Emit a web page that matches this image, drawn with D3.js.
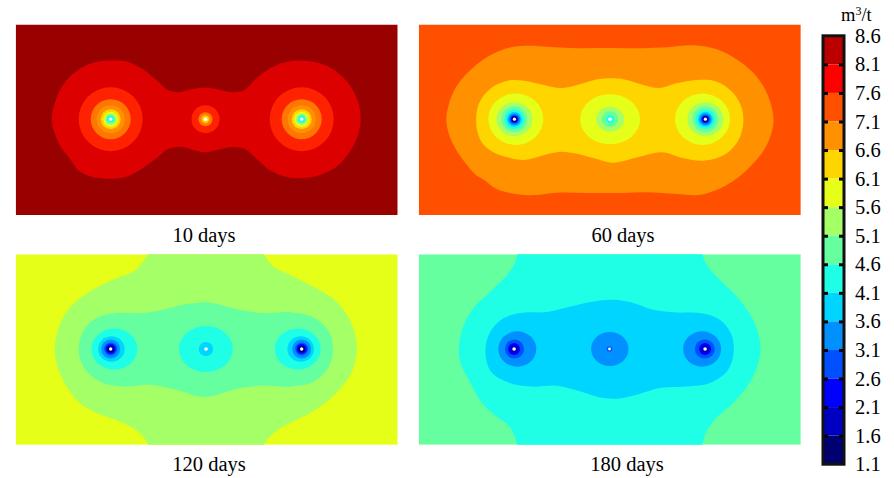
<!DOCTYPE html>
<html>
<head>
<meta charset="utf-8">
<script src="https://cdn.jsdelivr.net/npm/d3@7"></script>
<style>
body { margin: 0; background: #fff; }
text { font-family: "Liberation Serif", serif; fill: #000; }
</style>
</head>
<body>
<script>
// colour bar
const colorbarTicks = [8.6, 8.1, 7.6, 7.1, 6.6, 6.1, 5.6, 5.1, 4.6, 4.1, 3.6, 3.1, 2.6, 2.1, 1.6, 1.1]
const colorbarBands = [8.35, 7.85, 7.35, 6.85, 6.35, 5.85, 5.35, 4.85, 4.35, 3.85, 3.35, 2.85, 2.35, 1.85, 1.35]

// gas content of each zone, m3/t, and the colour it is drawn with
const zoneValues = [8.45, 8.35, 8, 7.85, 7.7, 7.35, 7.2, 6.85, 6.35, 5.85, 5.35, 4.85, 4.35, 3.85, 3.35, 2.85, 2.35, 1.85, 1.35, 0]
const zoneColors = ["#990000", "#bb0000", "#dd0000", "#ff0000", "#ff2200", "#ff5000", "#ff7700", "#ff9000", "#ffd500", "#e5ff18", "#a5ff66", "#66ffa0", "#1effe5", "#00d5ff", "#0090ff", "#0050ff", "#0000ff", "#0000c0", "#000070", "#ffffff"]

const panelTitles = ["10 days", "60 days", "120 days", "180 days"]
const backgrounds = [8.45, 7.35, 5.85, 4.85]

// contour outlines, [x, y] along the seam
const day10Outer = [[36,95.5],[39,79],[47.3,60.5],[62.3,45.5],[77.3,38.2],[94,36],[110.7,37],[127.3,44.8],[140.7,55.5],[154,66.2],[160.7,67.8],[177.3,64.5],[194,63.5],[200.7,64.5],[219,67.8],[227.3,66.2],[240.7,53.8],[257.3,42.2],[274,36.8],[287.3,36.2],[304,38.8],[320.7,47.2],[334,60.5],[342.3,77.2],[345,94.5],[342.3,110.5],[334,127.2],[320.7,142.2],[304,150.5],[284,153.8],[267.3,151.5],[252.3,144.5],[242.3,135.5],[227.3,123.8],[219,122.5],[200.7,125.5],[189,127.8],[180.7,126.2],[164,122.2],[154,123.8],[140.7,133.8],[124,145.5],[110.7,152.2],[94,154.2],[72,151],[62.3,145.5],[55,135.5],[44,120.5],[39,108.8]]

const day60Outer = [[27.6,95.5],[30.3,78.8],[38.6,60.5],[55.3,42.2],[75.3,28.8],[95.3,22.2],[108.6,21.2],[128.6,22.2],[152,23.5],[195.3,23.5],[224.6,23.8],[248,22.8],[274.6,20.8],[298,24.8],[321.3,37.2],[338,52.2],[349.6,72.2],[354.6,98.8],[348,120.5],[331.3,142.2],[308,160.5],[279.6,170.5],[258,169.5],[228,167.8],[204.6,168.5],[168.6,168.5],[138.6,168.2],[108.6,170.8],[92,168.8],[75,163],[66,156],[57,150.5],[48.6,141],[38.6,127.2],[30.3,110.5]]
const day60Inner = [[57.3,94.5],[60.3,78.8],[72,63.8],[88.6,56.2],[105.3,56.2],[125.3,60.5],[142,63.5],[158.6,60.5],[178.6,54.8],[195.3,53.8],[208,55.5],[224.6,60.5],[239.6,63.5],[258,58.8],[278,55.5],[298,57.2],[314.6,68.8],[323,83.8],[324.6,95.5],[321.3,112.2],[308,128.8],[284.6,136.2],[264.6,133.8],[243,127.8],[224.6,131.2],[201.3,137.2],[195.3,138.2],[175.3,133.8],[155.3,128.8],[142,127.2],[125.3,130.5],[105.3,135.5],[88.6,132.8],[73.6,127.2],[63.6,118.8],[58.6,107.2]]

const day120Outer = [[132.3,0],[135,-8],[245,-8],[248.3,0],[255.7,10.5],[274,20.5],[297.3,32.2],[320.7,47.2],[334,65.5],[341.3,93.8],[335.7,118.8],[320.7,138.8],[297.3,157.2],[274,168.8],[262.3,175.5],[248.3,190],[245,198],[135,198],[132.3,190],[122.3,177.2],[104,167.2],[80.7,158.8],[62.3,147.2],[49,128.8],[40.7,108.8],[39,95.5],[42.3,75.5],[52.3,55.5],[74,37.2],[97.3,25.5],[122.3,13.8],[127.3,7.2]]
const day120Inner = [[63,94.5],[67.3,77.2],[80.7,63.8],[100.7,58.8],[127.3,58.8],[147.3,55.5],[170.7,49.8],[194,48.2],[204,50.5],[224,55.5],[247.3,58.8],[277.3,58.2],[299,63.8],[314,78.8],[317.3,94.5],[312.3,113.8],[297.3,127.8],[275.7,132.2],[242.3,131.5],[217.3,135.5],[194,142.2],[184,142.2],[160.7,135.5],[134,130.5],[107.3,132.2],[87.3,128.8],[72.3,118.8],[64.7,105.5]]

const day180Outer = [[98.3,0],[100,-8],[282,-8],[283.7,0],[287.7,10.5],[301,25.5],[319.3,43.8],[334.3,65.5],[341.7,95.5],[334.3,122.2],[314.3,148.8],[294.3,167.2],[287.7,177.2],[283.7,190],[282,198],[100,198],[98.3,190],[91.7,173.8],[73.3,158.8],[63.3,148.8],[50,125.5],[41.7,108.8],[40,95.5],[43.3,75.5],[53.3,55.5],[71.7,37.2],[88.3,20.5],[96.7,7.2]]
const day180Inner = [[66.7,94.5],[71.7,77.2],[85,63.8],[101.7,58.8],[128.3,57.8],[151.7,52.2],[175,47.2],[195,45.5],[211,47.8],[234.3,55.5],[257.7,58.2],[281,58.8],[301,65.5],[312.7,80.5],[315,95.5],[309.3,115.5],[291,128.8],[267.7,132.2],[241,133.8],[217.7,140.5],[197.7,144.5],[185,143.8],[161.7,137.2],[138.3,131.5],[111.7,132.2],[88.3,127.8],[73.3,118.8]]

// [value, outline] per panel
const contours = [
    [[8, day10Outer]],
    [[6.85, day60Outer], [6.35, day60Inner]],
    [[5.35, day120Outer], [4.85, day120Inner]],
    [[4.35, day180Outer], [3.85, day180Inner]]
]

// rings round the three boreholes: [cx, rx, ry, value]
const day10Rings = [
    [95,32,32,7.7],[95,20,20,7.2],[95,14,14,6.85],[95,10,10,6.35],[95,7.5,7.5,5.85],[95,5.8,5.8,5.35],[95,4.6,4.6,4.85],[95,3.3,3.3,4.35],[95,1.6,1.6,0],
    [189.8,14,14,7.7],[189.8,7,7,7.2],[189.8,5,5,6.85],[189.8,3.4,3.4,6.35],[189.8,1.8,1.8,0],
    [286,32,32,7.7],[286,20,20,7.2],[286,14,14,6.85],[286,10,10,6.35],[286,7.5,7.5,5.85],[286,5.8,5.8,5.35],[286,4.6,4.6,4.85],[286,3.3,3.3,4.35],[286,1.6,1.6,0]
]
const day60Rings = [
    [97,27.5,25.7,5.85],[95.6,18,17,5.35],[95.6,13,13,4.85],[95.6,10,10,4.35],[95.6,7.5,7.5,3.85],[95.6,6,6,3.35],[95.6,4.5,4.5,2.85],[95.6,3.5,3.5,2.35],[95.6,2.6,2.6,1.35],[95.6,1.6,1.6,0],
    [191.3,30,25,5.85],[191.3,14,12.5,5.35],[191.3,8,8,4.85],[191.3,4,4,4.35],[191.3,1.8,1.8,0],
    [283.7,27.5,25.7,5.85],[286.6,18,17,5.35],[286.6,13,13,4.85],[286.6,10,10,4.35],[286.6,7.5,7.5,3.85],[286.6,6,6,3.35],[286.6,4.5,4.5,2.85],[286.6,3.5,3.5,2.35],[286.6,2.6,2.6,1.35],[286.6,1.6,1.6,0]
]
const day120Rings = [
    [98.7,23,20.5,4.35],[95.7,13.3,12.8,3.85],[95,9.5,9.5,3.35],[95,6.5,6.5,2.85],[95,5,5,2.35],[95,3.2,3.2,1.35],[95,1.7,1.7,0],
    [190.2,27,23,4.35],[190.3,7.2,7,3.85],[190.3,1.8,1.8,0],
    [282,23,20.5,4.35],[285,13.3,12.8,3.85],[286,9.5,9.5,3.35],[286,6.5,6.5,2.85],[286,5,5,2.35],[286,3.2,3.2,1.35],[286,1.7,1.7,0]
]
const day180Rings = [
    [98.5,19,17.7,3.35],[95.7,9.5,9.5,2.85],[95.3,6,6,2.35],[95.3,3.8,3.8,1.85],[95.3,1.8,1.8,0],
    [191,18.7,17,3.35],[190.7,2.8,2.8,2.85],[190.7,1.4,1.4,0],
    [283.3,19,17.7,3.35],[286,10,9.5,2.85],[286.3,6,6,2.35],[286.3,3.8,3.8,1.85],[286.3,1.8,1.8,0]
]
const rings = [day10Rings, day60Rings, day120Rings, day180Rings]

const w = 894
const h = 478
const pw = 382
const ph = 190.5
const color = d3.scaleOrdinal(zoneValues, zoneColors)

const svg = d3.select("body").append("svg")
    .attr("width", w)
    .attr("height", h)
    .style("display", "block")

const panelX = [15.7, 418.8]
const panelY = [24.5, 254.3]
const captionX = [204, 623, 209, 627]
const captionY = [242, 471]

panelTitles.forEach((title, i) => {
    const left = panelX[i % 2]
    const top = panelY[Math.floor(i / 2)]
    const x = d3.scaleLinear().domain([0, pw]).range([left, left + pw])
    const y = d3.scaleLinear().domain([0, ph]).range([top, top + ph])

    svg.append("clipPath").attr("id", "clip" + i)
        .append("rect")
        .attr("x", left).attr("y", top)
        .attr("width", pw).attr("height", ph)

    const g = svg.append("g").attr("clip-path", `url(#clip${i})`)
    g.append("rect")
        .attr("x", x(0)).attr("y", y(0))
        .attr("width", x(pw) - x(0)).attr("height", y(ph) - y(0))
        .attr("fill", color(backgrounds[i]))

    const line = d3.line()
        .x(d => x(d[0]))
        .y(d => y(d[1]))
        .curve(d3.curveCatmullRomClosed.alpha(1))

    g.selectAll("path")
        .data(contours[i])
        .enter()
        .append("path")
        .attr("d", d => line(d[1]))
        .attr("fill", d => color(d[0]))

    g.selectAll("ellipse")
        .data(rings[i])
        .enter()
        .append("ellipse")
        .attr("cx", d => x(d[0]))
        .attr("cy", y(94.7))
        .attr("rx", d => x(d[1]) - x(0))
        .attr("ry", d => y(d[2]) - y(0))
        .attr("fill", d => color(d[3]))

    svg.append("text")
        .attr("x", captionX[i])
        .attr("y", captionY[Math.floor(i / 2)])
        .attr("text-anchor", "middle")
        .style("font-size", "20.5px")
        .text(title)
})

// colour bar on the right
const barLeft = 823
const barRight = 844
const yBar = d3.scaleLinear().domain([1.1, 8.6]).range([464.2, 35.8])

svg.selectAll("rect.band")
    .data(colorbarBands)
    .enter()
    .append("rect")
    .attr("class", "band")
    .attr("x", barLeft)
    .attr("width", barRight - barLeft)
    .attr("y", d => yBar(d + 0.25))
    .attr("height", d => yBar(d - 0.25) - yBar(d + 0.25))
    .attr("fill", d => color(d))

const inner = colorbarTicks.slice(1, -1)
svg.append("g").attr("transform", `translate(${barLeft},0)`)
    .call(d3.axisRight(yBar).tickValues(inner).tickSize(5).tickFormat(""))
    .call(g => g.select(".domain").remove())
    .selectAll("line").attr("stroke", "#000").attr("stroke-width", 3)
svg.append("g").attr("transform", `translate(${barRight},0)`)
    .call(d3.axisLeft(yBar).tickValues(inner).tickSize(5).tickFormat(""))
    .call(g => g.select(".domain").remove())
    .selectAll("line").attr("stroke", "#000").attr("stroke-width", 3)

svg.append("rect")
    .attr("x", barLeft)
    .attr("y", yBar(8.6))
    .attr("width", barRight - barLeft)
    .attr("height", yBar(1.1) - yBar(8.6))
    .attr("fill", "none")
    .attr("stroke", "#111")
    .attr("stroke-width", 3)

svg.append("g").attr("transform", `translate(${barRight},0)`)
    .call(d3.axisRight(yBar).tickValues(colorbarTicks).tickSize(0).tickPadding(11).tickFormat(d3.format(".1f")))
    .call(g => g.select(".domain").remove())
    .selectAll("text")
    .style("font-family", '"Liberation Serif", serif')
    .style("font-size", "20.5px")
    .attr("fill", "#000")

const unit = svg.append("text")
    .attr("x", 841)
    .attr("y", 21)
    .style("font-size", "18.5px")
unit.append("tspan").text("m")
unit.append("tspan").attr("dy", -6).style("font-size", "12px").text("3")
unit.append("tspan").attr("dy", 6).text("/t")
</script>
</body>
</html>
